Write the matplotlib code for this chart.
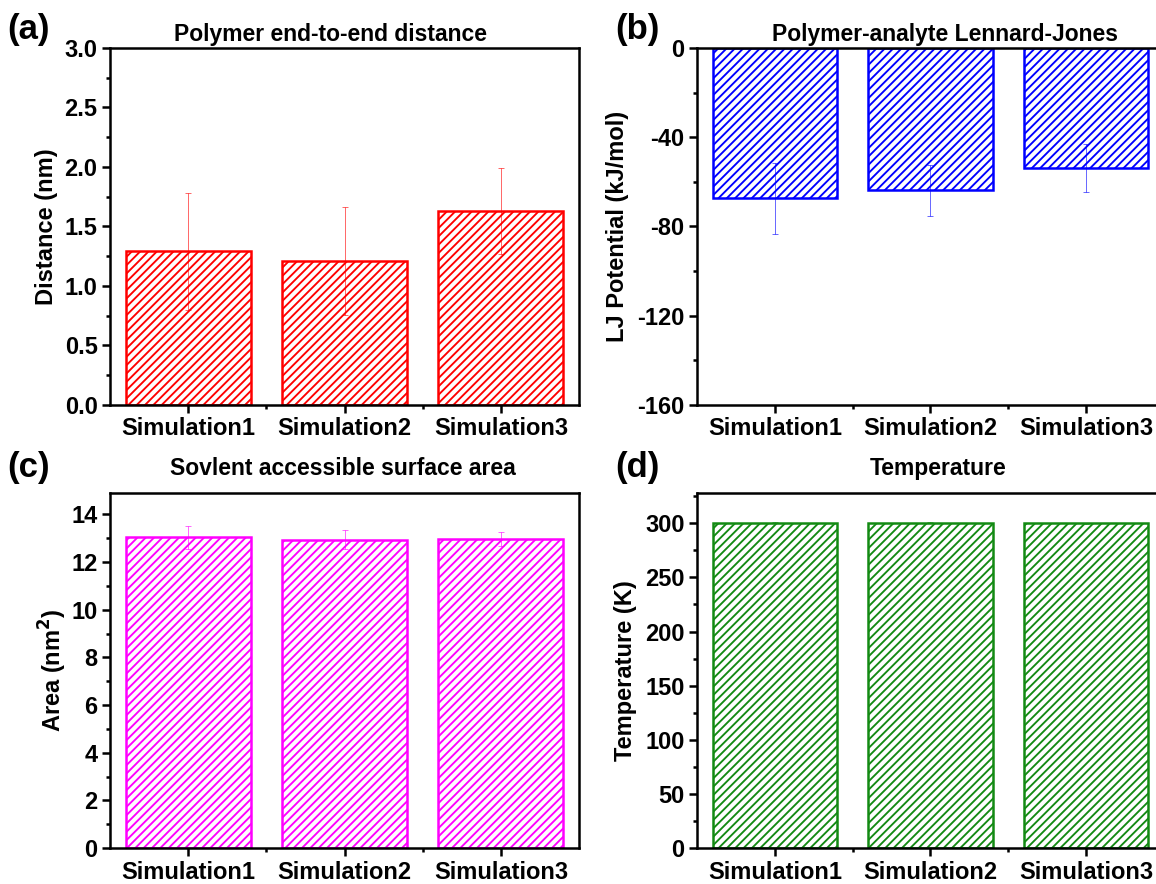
import matplotlib
matplotlib.use('Agg')
import matplotlib.pyplot as plt
from matplotlib.ticker import MultipleLocator, FormatStrFormatter

# data
labels = ['Simulation1', 'Simulation2', 'Simulation3']

dist = [1.29, 1.21, 1.63]
dist_err = [0.49, 0.45, 0.36]

lj = [-67.3, -63.8, -53.8]
lj_err = [15.9, 11.4, 10.8]

area = [13.05, 12.93, 12.97]
area_err = [0.48, 0.40, 0.30]

temp = [300.5, 300.6, 300.2]
temp_err = [0.5, 0.5, 0.5]

plt.rcParams['font.family'] = ['Liberation Sans', 'DejaVu Sans']
plt.rcParams['font.weight'] = 'bold'
plt.rcParams['axes.labelweight'] = 'bold'
plt.rcParams['axes.titleweight'] = 'bold'
plt.rcParams['axes.unicode_minus'] = False
plt.rcParams['hatch.linewidth'] = 1.35

fig = plt.figure(figsize=(11.56, 8.84), dpi=100)

x = [1, 2, 3]


def panel(rect, vals, errs, color, title, title_x, title_pad, ylabel, ylabel_x,
          ylim, major, minor, fmt, tag, tag_xy):
    ax = fig.add_axes(rect)
    ax.bar(x, vals, width=0.8, color='white', edgecolor=color, hatch='////', linewidth=1.8, zorder=2)
    ax.errorbar(x, vals, yerr=errs, fmt='none', ecolor=color, elinewidth=0.7, capsize=2.5,
                capthick=0.7, alpha=0.6, zorder=3)
    ax.set_xlim(0.5, 3.5)
    ax.set_ylim(*ylim)
    ax.set_xticks(x)
    ax.set_xticklabels(labels)
    ax.set_xticks([1.5, 2.5], minor=True)
    ax.yaxis.set_major_locator(MultipleLocator(major))
    ax.yaxis.set_minor_locator(MultipleLocator(minor))
    ax.yaxis.set_major_formatter(FormatStrFormatter(fmt))
    ax.tick_params(axis='both', which='major', direction='out', length=5.5, width=1.8,
                   labelsize=17)
    ax.tick_params(axis='both', which='minor', direction='out', length=3, width=1.8)
    for s in ax.spines.values():
        s.set_linewidth(1.8)
    ax.set_title(title, fontsize=16.5, pad=title_pad, x=title_x)
    ax.set_ylabel(ylabel, fontsize=17)
    ax.yaxis.set_label_coords(ylabel_x, 0.5)
    ax.yaxis.label.set_verticalalignment('center')
    fig.text(tag_xy[0], tag_xy[1], tag, fontsize=25, fontweight='bold', ha='left', va='center')
    return ax


ax1 = panel([0.0952, 0.5419, 0.4057, 0.4038], dist, dist_err, '#FF0000',
            'Polymer end-to-end distance', 0.471, 5, 'Distance (nm)', -0.136,
            (0, 3.0), 0.5, 0.25, '%.1f', '(a)', (0.006, 0.967))
ax2 = panel([0.6029, 0.5419, 0.404, 0.4038], lj, lj_err, '#0000FF',
            'Polymer-analyte Lennard-Jones', 0.531, 5, 'LJ Potential (kJ/mol)', -0.171,
            (-160, 0), 40, 20, '%d', '(b)', (0.532, 0.967))
ax3 = panel([0.0952, 0.0407, 0.4057, 0.4016], area, area_err, '#FF00FF',
            'Sovlent accessible surface area', 0.496, 13, 'Area (nm$^2$)', -0.1215,
            (0, 14.9), 2, 1, '%d', '(c)', (0.006, 0.4706))
ax4 = panel([0.6029, 0.0407, 0.404, 0.4016], temp, temp_err, '#138A13',
            'Temperature', 0.517, 13, 'Temperature (K)', -0.154,
            (0, 328), 50, 25, '%d', '(d)', (0.532, 0.4706))

fig.savefig('out.png', dpi=100)
